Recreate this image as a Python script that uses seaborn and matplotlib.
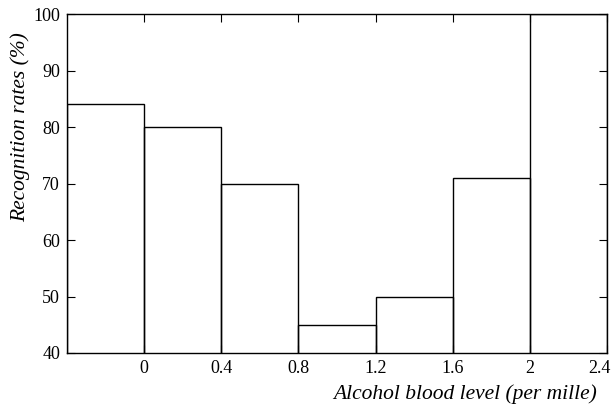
import numpy as np
import pandas as pd
import matplotlib
matplotlib.use("Agg")
import matplotlib.pyplot as plt
import matplotlib.transforms as mtransforms
import seaborn as sns

# données
bin_edges = [-0.4, 0.0, 0.4, 0.8, 1.2, 1.6, 2.0, 2.4]
rates = [84, 80, 70, 45, 50, 71, 100]
xticks = [0, 0.4, 0.8, 1.2, 1.6, 2.0, 2.4]
xtick_labels = ["0", "0.4", "0.8", "1.2", "1.6", "2", "2.4"]
yticks = [40, 50, 60, 70, 80, 90, 100]

sns.set_style("ticks")
plt.rcParams["font.family"] = ["Liberation Serif", "DejaVu Serif"]
plt.rcParams["text.color"] = "black"
plt.rcParams["axes.labelcolor"] = "black"
plt.rcParams["xtick.color"] = "black"
plt.rcParams["ytick.color"] = "black"

df = pd.DataFrame({
    "level": [(a + b) / 2 for a, b in zip(bin_edges[:-1], bin_edges[1:])],
    "rate": rates,
})

fig = plt.figure(figsize=(6.13, 4.05), dpi=100)
ax = fig.add_axes([0.1093, 0.1284, 0.8808, 0.837])

sns.histplot(data=df, x="level", weights="rate", bins=bin_edges,
             fill=False, color="black", linewidth=1.0, ax=ax)

ax.set_xlim(-0.4, 2.4)
ax.set_ylim(40, 100)
ax.set_xticks(xticks)
ax.set_xticklabels(xtick_labels)
ax.set_yticks(yticks)
ax.tick_params(direction="in", length=5.5, width=0.8, labelsize=13,
               top=True, right=True, pad=5)
for s in ax.spines.values():
    s.set_linewidth(1.0)
    s.set_color("black")

# le dernier label est décalé vers la gauche comme sur l'original
last = ax.get_xticklabels()[-1]
last.set_transform(last.get_transform() +
                   mtransforms.ScaledTranslation(-7 / 100, 0, fig.dpi_scale_trans))

ax.set_xlabel("Alcohol blood level (per mille)", fontsize=15.5, style="italic",
              ha="right")
ax.xaxis.set_label_coords(0.982, -0.093)
ax.set_ylabel("Recognition rates (%)", fontsize=15.5, style="italic",
              ha="center")
ax.yaxis.set_label_coords(-0.068, 0.667)

fig.savefig("out.png", dpi=100)
